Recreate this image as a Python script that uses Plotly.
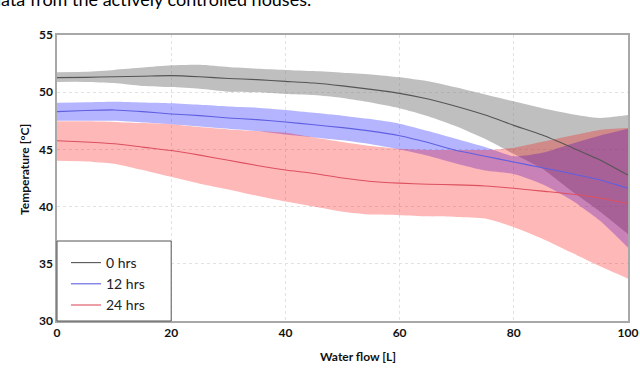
import plotly.graph_objects as go

# ---- data ----
water_flow = [0, 5, 10, 15, 20, 25, 30, 35, 40, 45, 50, 55, 60, 65, 70, 75, 80, 85, 90, 95, 100]

series_names = ["0 hrs", "12 hrs", "24 hrs"]

gray_mean = [51.27, 51.3, 51.35, 51.4, 51.45, 51.35, 51.2, 51.1, 50.95, 50.8, 50.55, 50.25, 49.9, 49.4, 48.75, 48.0, 47.1, 46.25, 45.2, 44.1, 42.75]
gray_upper = [51.75, 51.78, 51.95, 52.15, 52.35, 52.4, 52.2, 52.05, 51.95, 51.85, 51.7, 51.55, 51.3, 50.95, 50.4, 49.8, 49.2, 48.6, 48.1, 47.75, 48.0]
gray_lower = [50.9, 50.9, 50.8, 50.55, 50.45, 50.3, 50.05, 50.0, 49.85, 49.75, 49.5, 49.1, 48.6, 47.9, 47.0, 45.9, 44.6, 43.3, 41.4, 39.6, 37.6]

blue_mean = [48.3, 48.4, 48.45, 48.3, 48.1, 47.95, 47.75, 47.6, 47.4, 47.15, 46.9, 46.6, 46.2, 45.6, 44.9, 44.4, 43.9, 43.4, 42.9, 42.35, 41.6]
blue_upper = [49.08, 49.12, 49.17, 49.1, 49.03, 48.9, 48.75, 48.65, 48.45, 48.2, 47.95, 47.65, 47.25, 46.6, 45.9, 45.2, 44.4, 44.7, 45.47, 46.2, 46.8]
blue_lower = [47.5, 47.5, 47.5, 47.35, 47.2, 47.0, 46.8, 46.6, 46.3, 46.05, 45.8, 45.45, 45.0, 44.45, 43.75, 43.15, 42.85, 41.95, 40.6, 38.8, 36.4]

red_mean = [45.75, 45.65, 45.5, 45.2, 44.9, 44.5, 44.05, 43.6, 43.2, 42.9, 42.5, 42.2, 42.05, 41.95, 41.9, 41.8, 41.6, 41.35, 41.1, 40.75, 40.25]
red_upper = [47.45, 47.45, 47.4, 47.3, 47.2, 46.95, 46.75, 46.6, 46.45, 46.05, 45.65, 45.3, 45.05, 44.95, 44.95, 44.95, 45.15, 45.66, 46.19, 46.7, 46.87]
red_lower = [44.0, 43.95, 43.75, 43.2, 42.6, 42.0, 41.5, 40.95, 40.45, 40.0, 39.55, 39.3, 39.25, 39.15, 39.1, 38.95, 38.2, 37.2, 36.0, 34.8, 33.7]

x_ticks = [0, 20, 40, 60, 80, 100]
y_ticks = [30, 35, 40, 45, 50, 55]

# ---- styling ----
band_fill = ["rgba(128,128,128,0.5)", "rgba(0,0,255,0.29)", "rgba(255,0,0,0.28)"]
line_col = ["rgb(85,85,85)", "rgb(95,95,225)", "rgb(220,80,95)"]
smooth = 0.6

bands = [
    (gray_lower, gray_upper, gray_mean),
    (blue_lower, blue_upper, blue_mean),
    (red_lower, red_upper, red_mean),
]

fig = go.Figure()
for i, (lo, up, mean) in enumerate(bands):
    fig.add_trace(go.Scatter(x=water_flow, y=lo, mode="lines",
                             line=dict(width=0, shape="spline", smoothing=smooth),
                             showlegend=False, hoverinfo="skip"))
    fig.add_trace(go.Scatter(x=water_flow, y=up, mode="lines", fill="tonexty",
                             fillcolor=band_fill[i],
                             line=dict(width=0, shape="spline", smoothing=smooth),
                             showlegend=False, hoverinfo="skip"))

for i, (lo, up, mean) in enumerate(bands):
    fig.add_trace(go.Scatter(x=water_flow, y=mean, mode="lines", name=series_names[i],
                             line=dict(color=line_col[i], width=1.1, shape="spline", smoothing=smooth)))

tick_font = dict(family="Lato", size=12, color="#111111", weight="bold")

fig.update_xaxes(range=[0, 100], tickvals=x_ticks, ticks="", tickfont=tick_font,
                 showgrid=True, gridcolor="#e2e2e2", griddash="dot", gridwidth=1,
                 showline=True, linecolor="#a8a8a8", linewidth=2, mirror=True,
                 zeroline=False, automargin=False)
fig.update_yaxes(range=[30, 55], tickvals=y_ticks, ticks="", tickfont=tick_font,
                 showgrid=True, gridcolor="#e2e2e2", griddash="dot", gridwidth=1,
                 showline=True, linecolor="#a8a8a8", linewidth=1.5, mirror=True,
                 zeroline=False, automargin=False)

# legend box
fig.add_shape(type="rect", xref="paper", yref="paper", x0=0, x1=0.2, y0=0, y1=80 / 286,
              line=dict(color="#555555", width=1), fillcolor="white", layer="above")

fig.update_layout(
    width=640, height=368,
    margin=dict(l=57, r=12, t=35, b=47, autoexpand=False),
    paper_bgcolor="white", plot_bgcolor="white",
    showlegend=True,
    legend=dict(x=(66 - 57) / 571, y=(321 - 247) / 286, xanchor="left", yanchor="top",
                bgcolor="rgba(0,0,0,0)", borderwidth=0, traceorder="normal",
                font=dict(family="Lato", size=14, color="#222222"),
                itemwidth=30, tracegroupgap=0),
    annotations=[
        dict(text="Water flow [L]", xref="paper", yref="paper", x=(358 - 57) / 571,
             y=(321 - 356) / 286, xanchor="center", yanchor="middle", showarrow=False,
             font=dict(family="Lato", size=12, color="#111111", weight="bold")),
        dict(text="Temperature [°C]", xref="paper", yref="paper", x=(25 - 57) / 571,
             y=(321 - 170) / 286, xanchor="center", yanchor="middle", textangle=-90,
             showarrow=False,
             font=dict(family="Lato", size=12, color="#111111", weight="bold")),
        dict(text="data from the actively controlled houses.", xref="paper", yref="paper",
             x=(-11 - 57) / 571, y=1 + (35 + 0.5) / 286, xanchor="left", yanchor="middle",
             showarrow=False, font=dict(family="Lato", size=18, color="#000000")),
    ],
)

fig.write_html("out.html", config={"displayModeBar": False},
               post_script="document.body.style.margin='0';document.body.style.overflow='hidden';")
